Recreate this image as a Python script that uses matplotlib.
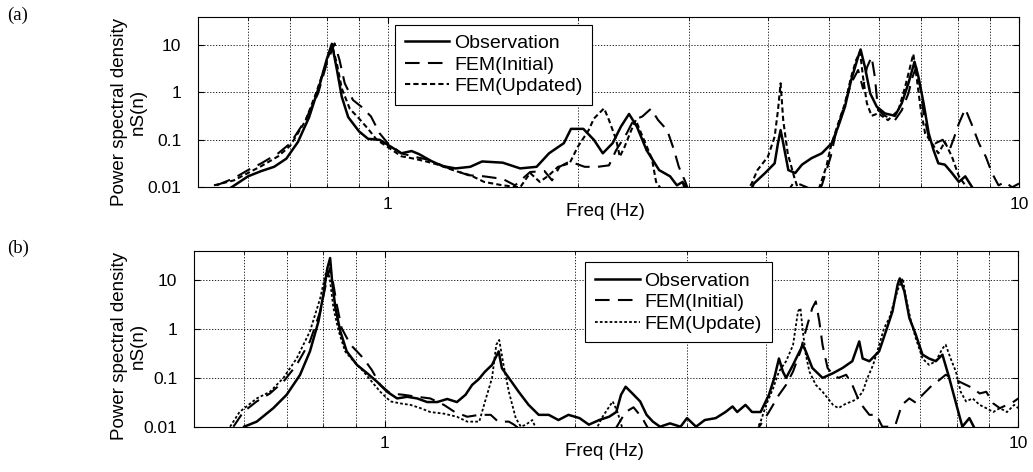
import matplotlib
matplotlib.use("Agg")
import matplotlib.pyplot as plt
from matplotlib.ticker import FixedLocator, FixedFormatter, NullLocator, NullFormatter

plt.rcParams['font.family'] = ['Liberation Sans', 'DejaVu Sans']

# (a) Observation
a_obs_f = [0.565, 0.60, 0.63, 0.66, 0.69, 0.72, 0.75, 0.78, 0.80, 0.815, 0.83, 0.845, 0.865, 0.90, 0.93, 0.97, 1.01,
           1.05, 1.09, 1.12, 1.17, 1.22, 1.28, 1.35, 1.41, 1.52, 1.62, 1.72, 1.80, 1.90, 1.95, 2.04, 2.12, 2.19, 2.27,
           2.34, 2.41, 2.48, 2.57, 2.69, 2.80, 2.87, 2.93, 2.97, 3.75, 3.80, 3.96, 4.10, 4.15, 4.19, 4.23, 4.31, 4.42,
           4.53, 4.69, 4.87, 5.05, 5.17, 5.30, 5.42, 5.56, 5.61, 5.70, 5.81, 5.95, 6.13, 6.36, 6.52, 6.68, 6.83, 6.93,
           7.06, 7.19, 7.32, 7.45, 7.63, 7.83, 8.03, 8.22, 8.43, 8.55]
a_obs_v = [0.01, 0.017, 0.022, 0.027, 0.04, 0.09, 0.3, 1.5, 5, 10.5, 3, 0.8, 0.3, 0.15, 0.105, 0.1, 0.072,
           0.052, 0.058, 0.05, 0.036, 0.028, 0.025, 0.027, 0.035, 0.033, 0.025, 0.027, 0.052, 0.085, 0.17, 0.17, 0.1,
           0.052, 0.085, 0.19, 0.35, 0.19, 0.06, 0.023, 0.017, 0.011, 0.013, 0.008, 0.008, 0.012, 0.02, 0.032, 0.085,
           0.16, 0.085, 0.023, 0.02, 0.03, 0.041, 0.052, 0.085, 0.19, 0.5, 1.8, 5.6, 8.0, 3.4, 0.95, 0.5, 0.36, 0.32,
           0.59, 1.55, 4.4, 2.1, 0.59, 0.14, 0.061, 0.032, 0.03, 0.02, 0.013, 0.017, 0.01, 0.008]
# (a) FEM(Initial)
a_ini_f = [0.535, 0.57, 0.60, 0.63, 0.67, 0.70, 0.74, 0.775, 0.80, 0.823, 0.838, 0.854, 0.88, 0.907, 0.94, 0.97, 1.0,
           1.05, 1.10, 1.16, 1.25, 1.34, 1.42, 1.52, 1.59, 1.68, 1.77, 1.82, 1.87, 1.94, 2.05, 2.15, 2.24, 2.30, 2.39,
           2.45, 2.53, 2.61, 2.68, 2.77, 2.84, 2.89, 2.96, 3.0, 4.1, 4.2, 4.3, 4.4, 4.8, 4.87, 5.03, 5.11, 5.24, 5.42,
           5.56, 5.66, 5.74, 5.84, 5.91, 5.98, 6.13, 6.36, 6.52, 6.68, 6.78, 6.87, 6.99, 7.06, 7.19, 7.36, 7.57, 7.76,
           7.90, 8.03, 8.22, 8.43, 8.64, 8.86, 9.06, 9.28, 9.5, 9.75, 10.0]
a_ini_v = [0.011, 0.0155, 0.023, 0.032, 0.052, 0.084, 0.26, 0.95, 4.1, 10.7, 4.8, 1.55, 0.69, 0.5, 0.31, 0.137, 0.084,
           0.052, 0.044, 0.038, 0.025, 0.018, 0.017, 0.015, 0.011, 0.021, 0.022, 0.014, 0.027, 0.035, 0.027, 0.027,
           0.029, 0.061, 0.137, 0.26, 0.31, 0.45, 0.26, 0.16, 0.061, 0.027, 0.013, 0.008, 0.008, 0.011, 0.008, 0.013,
           0.008, 0.011, 0.044, 0.116, 0.36, 1.55, 2.95, 1.2, 3.3, 5.6, 2.1, 0.42, 0.32, 0.26, 0.42, 0.95, 2.1, 3.4,
           1.1, 0.36, 0.116, 0.084, 0.1, 0.061, 0.116, 0.22, 0.45, 0.2, 0.084, 0.044, 0.02, 0.011, 0.013, 0.01, 0.012]
# (a) FEM(Updated)
a_upd_f = [0.53, 0.57, 0.60, 0.63, 0.67, 0.70, 0.74, 0.77, 0.80, 0.815, 0.83, 0.845, 0.87, 0.90, 0.93, 0.96, 1.0,
           1.05, 1.10, 1.15, 1.2, 1.28, 1.35, 1.42, 1.52, 1.62, 1.68, 1.74, 1.80, 1.86, 1.94, 2.0, 2.08, 2.12, 2.20,
           2.24, 2.30, 2.33, 2.37, 2.43, 2.47, 2.53, 2.62, 2.66, 2.73, 2.9, 2.95, 3.0, 3.7, 3.77, 3.85, 4.0, 4.1, 4.15,
           4.19, 4.23, 4.3, 4.4, 4.48, 4.8, 4.95, 5.03, 5.15, 5.30, 5.42, 5.52, 5.6, 5.66, 5.74, 5.84, 5.98, 6.2, 6.44,
           6.6, 6.72, 6.8, 6.87, 6.99, 7.1, 7.28, 7.45, 7.63, 7.83, 8.03, 8.22, 8.35]
a_upd_v = [0.011, 0.014, 0.02, 0.028, 0.045, 0.075, 0.25, 1.0, 4.5, 10, 4, 1.2, 0.45, 0.28, 0.17, 0.1, 0.07,
           0.045, 0.04, 0.035, 0.03, 0.022, 0.018, 0.013, 0.011, 0.01, 0.02, 0.013, 0.018, 0.027, 0.032, 0.072, 0.16,
           0.28, 0.46, 0.26, 0.1, 0.044, 0.07, 0.16, 0.26, 0.12, 0.04, 0.013, 0.008, 0.008, 0.012, 0.008, 0.008,
           0.012, 0.023, 0.044, 0.116, 0.42, 1.55, 0.26, 0.052, 0.017, 0.008, 0.008, 0.027, 0.07, 0.19, 0.59, 2.1,
           4.8, 7.0, 2.1, 0.59, 0.32, 0.36, 0.26, 0.42, 1.3, 3.4, 6.4, 2.5, 0.42, 0.137, 0.084, 0.052, 0.09, 0.044,
           0.017, 0.011, 0.008]

# (b) Observation
b_obs_f = [0.60, 0.628, 0.667, 0.70, 0.735, 0.762, 0.786, 0.80, 0.812, 0.82, 0.826, 0.836, 0.851, 0.871, 0.904, 0.938,
           0.972, 1.009, 1.046, 1.085, 1.125, 1.167, 1.21, 1.255, 1.30, 1.341, 1.374, 1.407, 1.44, 1.477, 1.513, 1.531,
           1.57, 1.627, 1.687, 1.75, 1.815, 1.88, 1.95, 2.03, 2.10, 2.18, 2.26, 2.32, 2.36, 2.40, 2.46, 2.53, 2.59,
           2.65, 2.72, 2.82, 2.93, 3.0, 3.1, 3.2, 3.33, 3.45, 3.54, 3.6, 3.71, 3.80, 3.92, 4.04, 4.12, 4.19, 4.25, 4.30,
           4.41, 4.49, 4.57, 4.62, 4.73, 4.91, 5.1, 5.28, 5.47, 5.61, 5.68, 5.82, 6.03, 6.18, 6.33, 6.45, 6.5, 6.61,
           6.73, 6.89, 7.06, 7.23, 7.41, 7.59, 7.78, 7.97, 8.16, 8.37, 8.58]
b_obs_v = [0.01, 0.0127, 0.024, 0.045, 0.115, 0.35, 1.44, 5.1, 17.9, 28.7, 9.5, 2.7, 0.9, 0.35, 0.185, 0.125,
           0.084, 0.052, 0.038, 0.041, 0.038, 0.032, 0.032, 0.037, 0.032, 0.045, 0.072, 0.094, 0.135, 0.185, 0.35,
           0.158, 0.1, 0.052, 0.028, 0.0175, 0.0175, 0.0137, 0.0175, 0.015, 0.011, 0.0137, 0.016, 0.02, 0.045, 0.066,
           0.048, 0.033, 0.0175, 0.0127, 0.01, 0.0117, 0.01, 0.015, 0.01, 0.0137, 0.015, 0.02, 0.026, 0.02, 0.028,
           0.02, 0.02, 0.045, 0.1, 0.25, 0.135, 0.1, 0.185, 0.3, 0.47, 0.35, 0.16, 0.1, 0.125, 0.16, 0.22, 0.56, 0.25,
           0.22, 0.35, 0.9, 2.3, 8.2, 11, 5.9, 1.7, 0.77, 0.3, 0.25, 0.22, 0.3, 0.1, 0.031, 0.01, 0.015, 0.008]
# (b) FEM(Initial)
b_ini_f = [0.577, 0.598, 0.628, 0.659, 0.692, 0.726, 0.762, 0.791, 0.811, 0.82, 0.83, 0.84, 0.855, 0.883, 0.904,
           0.926, 0.954, 0.984, 1.021, 1.072, 1.125, 1.18, 1.24, 1.29, 1.35, 1.41, 1.47, 1.51, 1.57, 1.6, 1.65, 2.3,
           2.4, 2.47, 2.55, 2.62, 3.85, 3.92, 4.04, 4.19, 4.30, 4.41, 4.53, 4.6, 4.68, 4.73, 4.79, 4.85, 4.91, 5.0,
           5.1, 5.2, 5.35, 5.47, 5.61, 5.71, 5.82, 5.97, 6.1, 6.25, 6.4, 6.55, 6.73, 6.89, 7.06, 7.32, 7.5, 7.68, 7.87,
           8.07, 8.27, 8.47, 8.69, 8.9, 9.13, 9.35, 9.6, 9.85, 10.0]
b_ini_v = [0.01, 0.02, 0.033, 0.048, 0.084, 0.185, 0.56, 2.3, 11, 17.9, 8.2, 3.2, 1.05, 0.48, 0.35, 0.25, 0.146,
           0.072, 0.048, 0.045, 0.041, 0.038, 0.028, 0.02, 0.016, 0.0175, 0.0175, 0.0127, 0.0127, 0.011, 0.008, 0.008,
           0.02, 0.025, 0.015, 0.008, 0.008, 0.011, 0.02, 0.045, 0.072, 0.135, 0.35, 0.77, 1.7, 2.7, 3.7, 1.5, 0.47,
           0.16, 0.116, 0.1, 0.116, 0.072, 0.033, 0.024, 0.0175, 0.0175, 0.01, 0.01, 0.011, 0.028, 0.038, 0.031,
           0.045, 0.072, 0.09, 0.116, 0.1, 0.084, 0.072, 0.062, 0.048, 0.052, 0.03, 0.024, 0.028, 0.033, 0.038]
# (b) FEM(Update)
b_upd_f = [0.57, 0.59, 0.628, 0.659, 0.692, 0.726, 0.762, 0.791, 0.806, 0.812, 0.82, 0.83, 0.846, 0.866, 0.893,
           0.926, 0.954, 0.984, 1.021, 1.059, 1.098, 1.139, 1.18, 1.24, 1.30, 1.35, 1.41, 1.44, 1.477, 1.50, 1.516,
           1.54, 1.57, 1.61, 1.64, 1.67, 1.71, 1.74, 2.15, 2.2, 2.29, 2.33, 2.38, 3.85, 3.92, 4.0, 4.1, 4.19, 4.3, 4.41,
           4.49, 4.53, 4.57, 4.62, 4.68, 4.79, 4.91, 5.1, 5.2, 5.35, 5.47, 5.57, 5.68, 5.78, 5.9, 6.03, 6.14, 6.26,
           6.37, 6.47, 6.57, 6.65, 6.77, 6.89, 7.06, 7.23, 7.41, 7.59, 7.68, 7.82, 7.97, 8.11, 8.27, 8.47, 8.69, 8.9,
           9.13, 9.35, 9.6, 9.85, 10.0]
b_upd_v = [0.01, 0.02, 0.038, 0.052, 0.1, 0.25, 0.9, 4.3, 13, 17.9, 9.5, 2.7, 0.9, 0.35, 0.22, 0.135, 0.084, 0.052,
           0.033, 0.03, 0.028, 0.024, 0.02, 0.0185, 0.016, 0.0127, 0.0127, 0.033, 0.1, 0.48, 0.6, 0.185, 0.052, 0.015,
           0.01, 0.011, 0.0137, 0.008, 0.008, 0.015, 0.033, 0.02, 0.008, 0.008, 0.0127, 0.028, 0.06, 0.135, 0.22,
           0.47, 2.3, 2.7, 0.9, 0.3, 0.135, 0.072, 0.052, 0.028, 0.024, 0.03, 0.033, 0.038, 0.052, 0.1, 0.185, 0.47,
           1.05, 1.7, 3.7, 7, 11, 4.3, 1.44, 0.65, 0.25, 0.185, 0.22, 0.4, 0.48, 0.25, 0.135, 0.052, 0.033, 0.038,
           0.028, 0.024, 0.02, 0.024, 0.02, 0.028, 0.024]

y_ticks = [0.01, 0.1, 1, 10]
y_ticklabels = ['0.01', '0.1', '1', '10']
x_ticks = [1, 10]
x_ticklabels = ['1', '10']
x_minor = [0.6, 0.7, 0.8, 0.9, 2, 3, 4, 5, 6, 7, 8, 9]

W, H = 1033, 472
fig = plt.figure(figsize=(W / 100, H / 100), dpi=100)


def px_axes(left, top, right, bottom):
    return fig.add_axes([left / W, 1 - bottom / H, (right - left) / W, (bottom - top) / H])


def style_axes(ax, ymax):
    ax.set_xscale('log')
    ax.set_yscale('log')
    ax.set_xlim(0.5, 10)
    ax.set_ylim(0.01, ymax)
    ax.xaxis.set_major_locator(FixedLocator(x_ticks))
    ax.xaxis.set_major_formatter(FixedFormatter(x_ticklabels))
    ax.xaxis.set_minor_locator(FixedLocator(x_minor))
    ax.xaxis.set_minor_formatter(NullFormatter())
    ax.yaxis.set_major_locator(FixedLocator(y_ticks))
    ax.yaxis.set_major_formatter(FixedFormatter(y_ticklabels))
    ax.yaxis.set_minor_locator(NullLocator())
    ax.grid(True, which='major', ls=(0, (1.5, 2)), color='k', lw=0.6)
    ax.grid(True, which='minor', axis='x', ls=(0, (1.5, 2)), color='k', lw=0.6)
    ax.tick_params(which='both', direction='in', top=True, right=True, labelsize=12.5)
    ax.tick_params(which='major', length=4)
    ax.tick_params(which='minor', length=2)
    ax.tick_params(axis='y', pad=12)
    ax.tick_params(axis='x', pad=7)
    for s in ax.spines.values():
        s.set_linewidth(0.8)


def add_legend(ax, anchor):
    leg = ax.legend(loc='upper left', bbox_to_anchor=anchor, borderaxespad=0, fontsize=14,
                    handlelength=2.3, handletextpad=0.25, labelspacing=0.2, borderpad=0.5,
                    fancybox=False, framealpha=1, edgecolor='k')
    leg.get_frame().set_linewidth(0.8)
    return leg


# panel (a)
ax1 = px_axes(198, 17.3, 1019, 187.3)
ax1.plot(a_obs_f, a_obs_v, color='k', lw=1.8, label='Observation')
ax1.plot(a_ini_f, a_ini_v, color='k', lw=1.5, dashes=(7, 4), label='FEM(Initial)')
ax1.plot(a_upd_f, a_upd_v, color='k', lw=1.5, dashes=(2.5, 1.5), label='FEM(Updated)')
style_axes(ax1, 38)
add_legend(ax1, (0.240, 0.955))

# panel (b)
ax2 = px_axes(194, 251, 1018.3, 426.7)
ax2.plot(b_obs_f, b_obs_v, color='k', lw=1.8, label='Observation')
ax2.plot(b_ini_f, b_ini_v, color='k', lw=1.5, dashes=(7, 4), label='FEM(Initial)')
ax2.plot(b_upd_f, b_upd_v, color='k', lw=1.3, dashes=(1.5, 1.2), label='FEM(Update)')
style_axes(ax2, 40)
add_legend(ax2, (0.4745, 0.936))

# labels
fs = 13.5
for yc in (112, 346):
    fig.text(119 / W, 1 - yc / H, 'Power spectral density', rotation=90, ha='center', va='center', fontsize=fs)
    fig.text(138 / W, 1 - yc / H, 'nS(n)', rotation=90, ha='center', va='center', fontsize=fs)
fig.text(605 / W, 1 - 211 / H, 'Freq (Hz)', ha='center', va='center', fontsize=fs)
fig.text(604 / W, 1 - 452 / H, 'Freq (Hz)', ha='center', va='center', fontsize=fs)
fig.text(18 / W, 1 - 15 / H, '(a)', ha='center', va='center', fontsize=13.5, family='Liberation Serif')
fig.text(18 / W, 1 - 248 / H, '(b)', ha='center', va='center', fontsize=13.5, family='Liberation Serif')

fig.savefig('out.png', dpi=100)
